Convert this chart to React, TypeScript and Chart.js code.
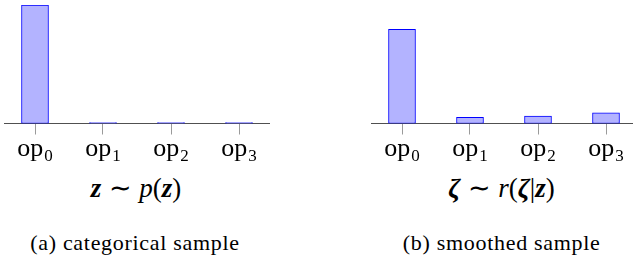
import React, { useEffect, useRef } from "react";
import { Chart, registerables } from "chart.js";

Chart.register(...registerables);

const categories = ["op_0", "op_1", "op_2", "op_3"];
const categoricalValues = [1, 0, 0, 0];
const smoothedValues = [0.795, 0.052, 0.063, 0.09];
const yMin = 0;
const yMax = 1;

const SERIF = '"Liberation Serif", "Times New Roman", serif';

const tickLabelPlugin = {
  id: "subscriptTickLabels",
  afterDraw(chart: any) {
    const xs = chart.scales.x;
    const ctx = chart.ctx;
    const baseY = xs.top + 32;
    ctx.save();
    ctx.fillStyle = "#000";
    ctx.textAlign = "left";
    ctx.textBaseline = "alphabetic";
    xs.ticks.forEach((t: any, i: number) => {
      const [base, sub] = categories[i].split("_");
      const px = xs.getPixelForValue(t.value);
      ctx.font = `26px ${SERIF}`;
      const wb = ctx.measureText(base).width;
      ctx.font = `17px ${SERIF}`;
      const ws = ctx.measureText(sub).width;
      const x0 = px - (wb + ws + 1) / 2;
      ctx.font = `26px ${SERIF}`;
      ctx.fillText(base, x0, baseY);
      ctx.font = `17px ${SERIF}`;
      ctx.fillText(sub, x0 + wb + 1, baseY + 5);
    });
    ctx.restore();
  },
};

function BarPanel({ values, left }: { values: number[]; left: number }) {
  const ref = useRef<HTMLCanvasElement | null>(null);
  useEffect(() => {
    if (!ref.current) return;
    const chart = new Chart(ref.current, {
      type: "bar",
      data: {
        datasets: [
          {
            data: values.map((v, i) => ({ x: i, y: v })),
            backgroundColor: "rgb(179,179,255)",
            borderColor: "#0000ff",
            borderWidth: 1,
            borderSkipped: false,
            barThickness: 27,
            minBarLength: 1,
          },
        ],
      },
      options: {
        animation: false,
        responsive: false,
        layout: { padding: { left: 4.4, right: 20.4, top: 5, bottom: 35.5 } },
        plugins: { legend: { display: false }, tooltip: { enabled: false } },
        scales: {
          x: {
            type: "linear",
            offset: false,
            min: -0.45,
            max: categories.length - 1 + 0.45,
            afterBuildTicks: (s: any) => {
              s.ticks = categories.map((_, i) => ({ value: i }));
            },
            ticks: { display: false },
            grid: {
              display: true,
              offset: false,
              drawOnChartArea: false,
              drawTicks: true,
              tickLength: 11,
              color: "#9a9a9a",
              lineWidth: 1,
            },
            border: { display: true, color: "#505050", width: 1 },
          },
          y: { display: false, min: yMin, max: yMax },
        },
      },
      plugins: [tickLabelPlugin],
    } as any);
    return () => chart.destroy();
  }, [values]);
  return (
    <canvas
      ref={ref}
      width={290}
      height={170}
      style={{ position: "absolute", left, top: 0, width: 290, height: 170 }}
    />
  );
}

const mathStyle: React.CSSProperties = {
  position: "absolute",
  width: 300,
  textAlign: "center",
  fontFamily: SERIF,
  fontSize: 27,
  lineHeight: "27px",
  whiteSpace: "nowrap",
  color: "#000",
};

const capStyle: React.CSSProperties = {
  position: "absolute",
  width: 300,
  textAlign: "center",
  fontFamily: SERIF,
  fontSize: 22,
  lineHeight: "22px",
  letterSpacing: "0.7px",
  whiteSpace: "nowrap",
  color: "#000",
};

const bi: React.CSSProperties = { fontWeight: "bold", fontStyle: "italic" };
const it: React.CSSProperties = { fontStyle: "italic" };

export default function App() {
  return (
    <div
      style={{
        position: "absolute",
        left: 0,
        top: 0,
        width: 633,
        height: 262,
        overflow: "hidden",
        background: "#fff",
      }}
    >
      <BarPanel values={categoricalValues} left={0} />
      <BarPanel values={smoothedValues} left={366.7} />
      <div style={{ ...mathStyle, left: 136 - 150, top: 175 }}>
        <span style={bi}>z</span>
        <span style={{ margin: "0 0.28em" }}>∼</span>
        <span style={it}>p</span>(<span style={bi}>z</span>)
      </div>
      <div style={{ ...mathStyle, left: 501.5 - 150, top: 175 }}>
        <span style={bi}>ζ</span>
        <span style={{ margin: "0 0.28em" }}>∼</span>
        <span style={it}>r</span>(<span style={bi}>ζ</span>|<span style={bi}>z</span>)
      </div>
      <div style={{ ...capStyle, left: 135 - 150, top: 231.5 }}>(a) categorical sample</div>
      <div style={{ ...capStyle, left: 501.7 - 150, top: 231.5 }}>(b) smoothed sample</div>
    </div>
  );
}
